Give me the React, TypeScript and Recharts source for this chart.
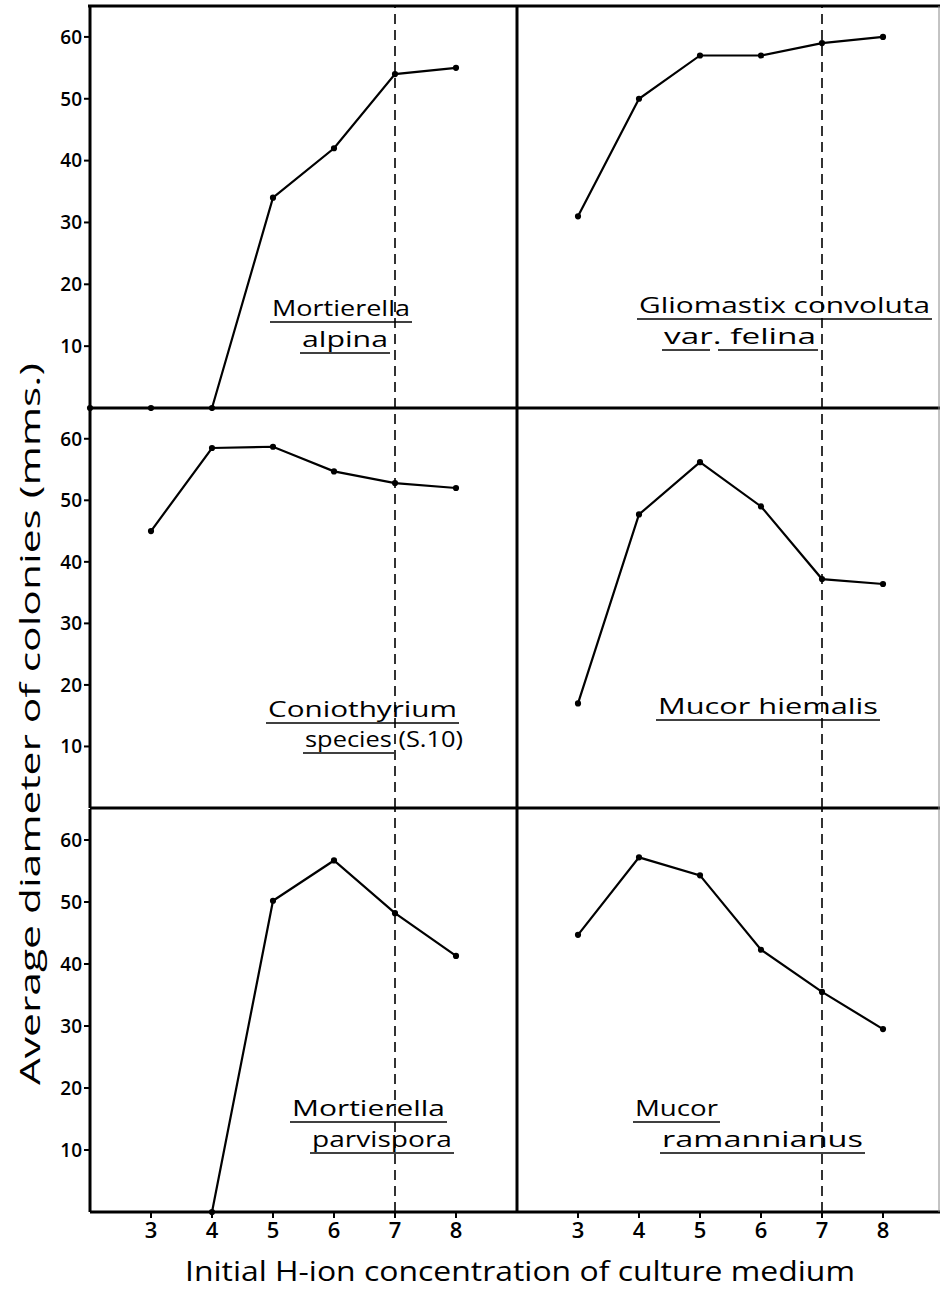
import { LineChart, Line, XAxis, YAxis, ReferenceLine } from 'recharts';

// pH values on the x axis (2 sits on the left frame)
const PH = [2, 3, 4, 5, 6, 7, 8];
const X_TICKS = [3, 4, 5, 6, 7, 8];
const Y_TICKS = [10, 20, 30, 40, 50, 60];

// average colony diameter (mm) per pH
const alpina = [0, 0, 0, 34, 42, 54, 55];
const felina = [null, 31, 50, 57, 57, 59, 60];
const coniothyrium = [null, 45, 58.5, 58.7, 54.7, 52.8, 52];
const hiemalis = [null, 17, 47.7, 56.2, 49, 37.2, 36.4];
const parvispora = [null, null, 0, 50.2, 56.7, 48.2, 41.3];
const ramannianus = [null, 44.7, 57.2, 54.3, 42.3, 35.5, 29.5];

const FONT = '"Open Sans", sans-serif';
const PLOT_W = 427;
const M = 2;

const toRows = (values: (number | null)[]) => PH.map((ph, i) => ({ ph, d: values[i] }));

interface PanelProps {
    values: (number | null)[];
    left: number;
    top: number;
    height: number;
    showY?: boolean;
    showX?: boolean;
}

function Panel({ values, left, top, height, showY = false, showX = false }: PanelProps) {
    // hidden axes still need a pixel so their line gets drawn
    const yW = showY ? 90 : 1;
    const xH = showX ? 44 : 1;
    const axisStyle = { stroke: '#000', strokeWidth: 3 };
    return (
        <div style={{ position: 'absolute', left: left - yW - M, top: top - M }}>
            <LineChart
                width={yW + PLOT_W + 2 * M}
                height={height + xH + 2 * M}
                data={toRows(values)}
                margin={{ top: M, right: M, bottom: M, left: M }}
            >
                <XAxis
                    dataKey="ph"
                    type="number"
                    domain={[2, 9]}
                    ticks={X_TICKS}
                    height={xH}
                    axisLine={axisStyle}
                    tickLine={showX ? { stroke: '#000', strokeWidth: 2 } : false}
                    tickSize={6}
                    tickMargin={4}
                    tick={showX ? { fill: '#000', fontSize: 22, fontWeight: 600, fontFamily: FONT } : false}
                />
                <YAxis
                    type="number"
                    domain={[0, 65]}
                    ticks={Y_TICKS}
                    width={yW}
                    axisLine={axisStyle}
                    tickLine={showY ? { stroke: '#000', strokeWidth: 2 } : false}
                    tickSize={6}
                    tickMargin={2}
                    tick={showY ? { fill: '#000', fontSize: 19, fontWeight: 600, fontFamily: FONT } : false}
                />
                <ReferenceLine x={7} stroke="#000" strokeWidth={1.6} strokeDasharray="10 6" />
                <Line
                    dataKey="d"
                    stroke="#000"
                    strokeWidth={2.2}
                    dot={{ r: 2, fill: '#000', stroke: '#000' }}
                    connectNulls={false}
                    isAnimationActive={false}
                />
            </LineChart>
        </div>
    );
}

// species names, hand-lettered and underlined in the original
function Name({ x, y, w, text, ul = [[x - 2, x + w + 2]] }: { x: number; y: number; w: number; text: string; ul?: number[][] }) {
    return (
        <g>
            <text x={x} y={y} textLength={w} lengthAdjust="spacingAndGlyphs" fontSize={21} fontFamily={FONT} fill="#000">
                {text}
            </text>
            {ul.map(([a, b]) => (
                <line key={a} x1={a} x2={b} y1={y + 6} y2={y + 6} stroke="#000" strokeWidth={1.6} />
            ))}
        </g>
    );
}

export default function App() {
    const L = 90;
    const R = 517;
    return (
        <div style={{ position: 'absolute', left: 0, top: 0, width: 940, height: 1300, overflow: 'hidden', background: '#fff' }}>
            <Panel values={alpina} left={L} top={6} height={402} showY />
            <Panel values={felina} left={R} top={6} height={402} />
            <Panel values={coniothyrium} left={L} top={408} height={400} showY />
            <Panel values={hiemalis} left={R} top={408} height={400} />
            <Panel values={parvispora} left={L} top={809} height={403} showY showX />
            <Panel values={ramannianus} left={R} top={809} height={403} showX />

            <svg width={940} height={1300} style={{ position: 'absolute', left: 0, top: 0, pointerEvents: 'none' }}>
                <line x1={88} x2={940} y1={6} y2={6} stroke="#000" strokeWidth={3} />
                <line x1={939} x2={939} y1={6} y2={1212} stroke="#888" strokeWidth={1} />

                <Name x={272} y={316} w={138} text="Mortierella" />
                <Name x={302} y={347} w={86} text="alpina" />

                <Name x={639} y={313} w={291} text="Gliomastix convoluta" />
                <Name x={664} y={344} w={152} text="var. felina" ul={[[662, 710], [718, 818]]} />

                <Name x={268} y={717} w={189} text="Coniothyrium" />
                <Name x={305} y={747} w={158} text="species (S.10)" ul={[[303, 394]]} />

                <Name x={658} y={714} w={220} text="Mucor hiemalis" />

                <Name x={292} y={1116} w={153} text="Mortierella" />
                <Name x={312} y={1147} w={140} text="parvispora" />

                <Name x={635} y={1116} w={83} text="Mucor" />
                <Name x={662} y={1147} w={201} text="ramannianus" />

                <text
                    x={40}
                    y={724}
                    transform="rotate(-90 40 724)"
                    textAnchor="middle"
                    textLength={722}
                    lengthAdjust="spacingAndGlyphs"
                    fontSize={28}
                    fontFamily={FONT}
                    fill="#000"
                >
                    Average diameter of colonies (mms.)
                </text>
                <text
                    x={520}
                    y={1281}
                    textAnchor="middle"
                    textLength={670}
                    lengthAdjust="spacingAndGlyphs"
                    fontSize={27}
                    fontFamily={FONT}
                    fill="#000"
                >
                    Initial H-ion concentration of culture medium
                </text>
            </svg>
        </div>
    );
}
